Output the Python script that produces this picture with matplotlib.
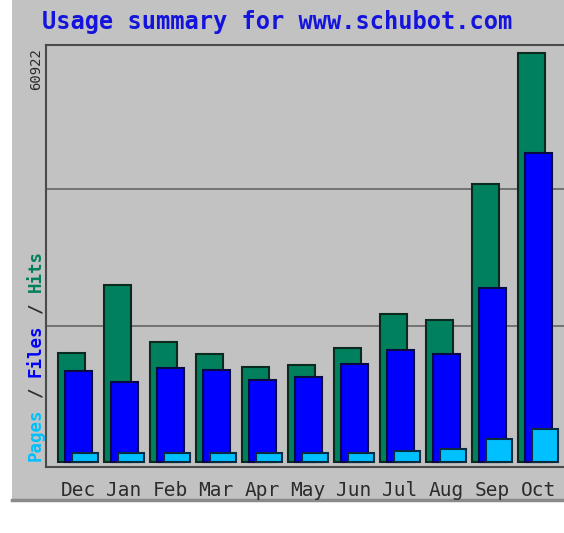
"""Webalizer-style monthly usage summary (hits / files / pages)."""

import matplotlib

matplotlib.use("Agg")
import matplotlib.pyplot as plt
from matplotlib.patches import Rectangle
from matplotlib.transforms import offset_copy
import numpy as np

months = ["Dec", "Jan", "Feb", "Mar", "Apr", "May", "Jun", "Jul", "Aug", "Sep", "Oct"]
hits = [16240, 26360, 17870, 16090, 14150, 14450, 16980, 22050, 21150, 41410, 60922]
files = [13550, 11920, 14000, 13700, 12210, 12660, 14600, 16680, 16090, 25920, 46030]
pages = [1340, 1340, 1340, 1340, 1340, 1340, 1340, 1640, 1940, 3430, 4920]

BG = "#c2c2c2"
HIT_C = "#00805c"
FILE_C = "#0000ff"
PAGE_C = "#00c0ff"
TEXT_C = "#2c2c2c"

W, H = 564, 533
fig = plt.figure(figsize=(W / 100, H / 100), dpi=100)
fig.patch.set_facecolor("white")

# grey panel behind everything
fig.patches.append(Rectangle((12 / W, 1 - 500 / H), 1 - 12 / W, 500 / H,
                             transform=fig.transFigure, facecolor=BG,
                             edgecolor="none", zorder=-10))
fig.add_artist(plt.Line2D([12 / W, 1], [1 - 500 / H, 1 - 500 / H],
                          transform=fig.transFigure, color="#8a8a8a", lw=2.5, zorder=-5))

ax = fig.add_axes([46 / W, (H - 467) / H, (W - 46) / W, (467 - 45) / H])
ax.set_zorder(2)
ax.set_facecolor(BG)

x = np.arange(len(months))
bw = 0.58
ax.bar(x, hits, width=bw, align="edge", color=HIT_C, edgecolor="#0b2a1f", lw=1.5, zorder=3)
ax.bar(x + 0.15, files, width=bw, align="edge", color=FILE_C, edgecolor="#0a0a40", lw=1.5, zorder=4)
ax.bar(x + 0.30, pages, width=bw, align="edge", color=PAGE_C, edgecolor="#0a2a40", lw=1.5, zorder=5)

top = max(hits)
unit = top / 409.0  # value per pixel
for frac in (1 / 3, 2 / 3):
    ax.axhline(top * frac, color="#6c6c6c", lw=1.3, zorder=1)

ax.set_ylim(-5 * unit, 417 * unit)
ax.set_xlim(-12 / 46, -12 / 46 + 518 / 46)

ax.set_yticks([])
ax.set_xticks(x + 0.435)
ax.set_xticklabels(months, family="DejaVu Sans Mono", fontsize=14, color=TEXT_C)
ax.tick_params(axis="x", length=0, pad=10)

for side in ("left", "top", "bottom"):
    ax.spines[side].set_color("#4a4a4a")
    ax.spines[side].set_linewidth(1.5)
ax.spines["right"].set_visible(False)

# max value label
ax.text(-10 / 518, 1 - 3 / 422, f"{top}", transform=ax.transAxes, rotation=90,
        ha="center", va="top", family="DejaVu Sans Mono", fontsize=10, color=TEXT_C)

# rotated multi-coloured legend
fs = 12.6
char_pt = 0.602 * fs
pieces = [("Pages", 0, PAGE_C), ("/", 6, TEXT_C), ("Files", 8, FILE_C),
          ("/", 14, TEXT_C), ("Hits", 16, HIT_C)]
base = (36 / W, (H - 461) / H)
for txt, pos, col in pieces:
    tr = offset_copy(fig.transFigure, fig=fig, x=0, y=pos * char_pt, units="points")
    fig.text(base[0], base[1], txt, transform=tr, rotation=90, ha="center", va="bottom",
             family="DejaVu Sans Mono", fontweight="bold", fontsize=fs, color=col)

fig.text(42 / W, 1 - 22 / H, "Usage summary for www.schubot.com", ha="left", va="center",
         family="DejaVu Sans Mono", fontweight="bold", fontsize=17, color="#1414dc")

fig.savefig("out.png", dpi=100)
plt.close(fig)
